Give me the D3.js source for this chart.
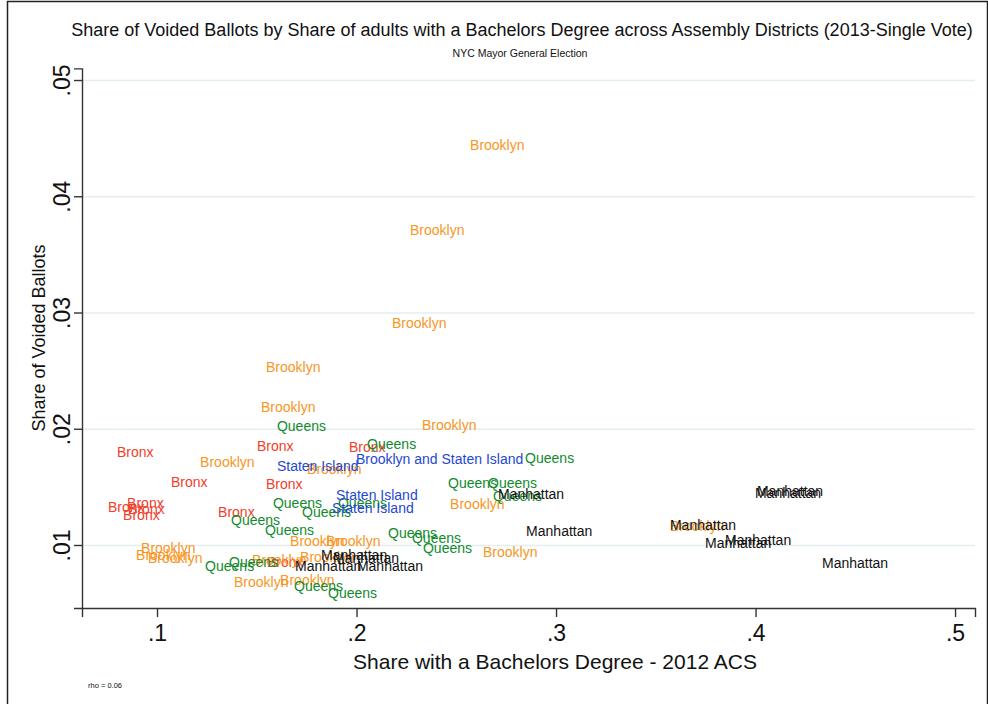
<!DOCTYPE html>
<html>
<head>
<meta charset="utf-8">
<script src="https://cdn.jsdelivr.net/npm/d3@7"></script>
<style>
  html, body { margin: 0; padding: 0; background: #fff; }
</style>
</head>
<body>
<div id="chart"></div>
<script>
// [share with bachelors degree, share of voided ballots] per assembly district
const bronx = [[0.0784, 0.0180], [0.1486, 0.0185], [0.1947, 0.0184], [0.1055, 0.0154], [0.1531, 0.0152], [0.0739, 0.0133], [0.0835, 0.0136], [0.0840, 0.0131], [0.0815, 0.0126], [0.1291, 0.0128], [0.1536, 0.0085]]
const brooklyn = [[0.2554, 0.0444], [0.2253, 0.0371], [0.2163, 0.0291], [0.1531, 0.0253], [0.1506, 0.0219], [0.2313, 0.0203], [0.1201, 0.0171], [0.1737, 0.0165], [0.2454, 0.0135], [0.2619, 0.0094], [0.3556, 0.0116], [0.1652, 0.0103], [0.1832, 0.0103], [0.1702, 0.0090], [0.0905, 0.0097], [0.0880, 0.0091], [0.0940, 0.0089], [0.1461, 0.0087], [0.1371, 0.0068], [0.1602, 0.0070]]
const queens = [[0.1586, 0.0202], [0.2038, 0.0187], [0.2830, 0.0175], [0.2444, 0.0153], [0.2644, 0.0153], [0.2669, 0.0142], [0.1566, 0.0136], [0.1892, 0.0136], [0.1712, 0.0128], [0.1356, 0.0121], [0.1526, 0.0113], [0.2143, 0.0110], [0.2263, 0.0106], [0.2318, 0.0097], [0.1226, 0.0082], [0.1346, 0.0085], [0.1672, 0.0065], [0.1842, 0.0059]]
const statenIsland = [[0.1586, 0.0168], [0.1882, 0.0143], [0.1862, 0.0132]]
const brooklynAndStatenIsland = [[0.1982, 0.0174]]
const manhattan = [[0.2694, 0.0144], [0.2835, 0.0112], [0.3982, 0.0145], [0.3992, 0.0146], [0.3556, 0.0117], [0.3732, 0.0102], [0.3832, 0.0104], [0.4318, 0.0084], [0.1677, 0.0082], [0.1987, 0.0082], [0.1807, 0.0091], [0.1867, 0.0089]]

const xTicks = [0.1, 0.2, 0.3, 0.4, 0.5]
const yTicks = [0.01, 0.02, 0.03, 0.04, 0.05]

const groups = [
  {name: 'Bronx', points: bronx, color: '#f0402a'},
  {name: 'Brooklyn', points: brooklyn, color: '#f8961e'},
  {name: 'Queens', points: queens, color: '#118a2c'},
  {name: 'Staten Island', points: statenIsland, color: '#1f48d2'},
  {name: 'Brooklyn and Staten Island', points: brooklynAndStatenIsland, color: '#1f48d2'},
  {name: 'Manhattan', points: manhattan, color: '#111111'}
]

const draw = (id) => {
  const W = 988
  const H = 704
  const font = 'Liberation Sans, Arial, Helvetica, sans-serif'

  const svg = d3.select(id)
    .append('svg')
    .attr('width', W)
    .attr('height', H)
    .style('display', 'block')
    .style('font-family', font)

  // outer frame
  svg.append('path')
    .attr('d', `M7.5,${H} V1.5 H987.5 V${H}`)
    .attr('fill', 'none')
    .attr('stroke', '#222')
    .attr('stroke-width', 1.5)

  const x = d3.scaleLinear().domain([0.0624, 0.51]).range([82, 975])
  const y = d3.scaleLinear().domain([0.00458, 0.051]).range([608, 68.4])

  // grid
  svg.append('g')
    .attr('transform', `translate(${x.range()[0]},0)`)
    .call(d3.axisLeft(y).tickValues(yTicks).tickSize(-(x.range()[1] - x.range()[0])).tickFormat(''))
    .call(g => g.select('.domain').remove())
    .call(g => g.selectAll('line').attr('stroke', '#e4eef1').attr('stroke-width', 1.6))

  const fmt = (d, p) => d3.format(`.${p}f`)(d).replace(/^0/, '')

  const xAxis = svg.append('g')
    .attr('transform', `translate(0,${y.range()[0]})`)
    .call(d3.axisBottom(x).tickValues(xTicks).tickSizeOuter(0).tickSize(9).tickPadding(8).tickFormat(d => fmt(d, 1)))
  xAxis.selectAll('text').attr('font-size', 23).attr('fill', '#111').attr('font-family', font)

  const yAxis = svg.append('g')
    .attr('transform', `translate(${x.range()[0]},0)`)
    .call(d3.axisLeft(y).tickValues(yTicks).tickSizeOuter(0).tickSize(8).tickFormat(d => fmt(d, 2)))
  yAxis.selectAll('text')
    .attr('font-size', 23)
    .attr('fill', '#111')
    .attr('font-family', font)
    .attr('text-anchor', 'middle')
    .attr('dy', null)
    .attr('x', null)
    .attr('y', 0)
    .attr('transform', 'translate(-12,0) rotate(-90)')

  ;[xAxis, yAxis].forEach(a => a.selectAll('.domain, .tick line').attr('stroke', '#333').attr('stroke-width', 1.4))

  // labels as markers
  const rows = groups.flatMap(g => g.points.map(p => ({name: g.name, color: g.color, bach: p[0], voided: p[1]})))
  svg.append('g')
    .selectAll('text')
    .data(rows)
    .enter()
    .append('text')
    .attr('x', d => x(d.bach) + 3)
    .attr('y', d => y(d.voided))
    .attr('dy', '0.35em')
    .attr('font-size', 14)
    .attr('fill', d => d.color)
    .text(d => d.name)

  // titles
  svg.append('text')
    .attr('x', 522)
    .attr('y', 36)
    .attr('text-anchor', 'middle')
    .attr('font-size', 18)
    .attr('fill', '#111')
    .text('Share of Voided Ballots by Share of adults with a Bachelors Degree across Assembly Districts (2013-Single Vote)')

  svg.append('text')
    .attr('x', 520)
    .attr('y', 57)
    .attr('text-anchor', 'middle')
    .attr('font-size', 10.5)
    .attr('fill', '#111')
    .text('NYC Mayor General Election')

  svg.append('text')
    .attr('x', 555)
    .attr('y', 669)
    .attr('text-anchor', 'middle')
    .attr('font-size', 21)
    .attr('fill', '#111')
    .text('Share with a Bachelors Degree - 2012 ACS')

  svg.append('text')
    .attr('transform', 'translate(45,338) rotate(-90)')
    .attr('text-anchor', 'middle')
    .attr('font-size', 18)
    .attr('fill', '#111')
    .text('Share of Voided Ballots')

  svg.append('text')
    .attr('x', 88)
    .attr('y', 688)
    .attr('font-size', 7.5)
    .attr('fill', '#111')
    .text('rho = 0.06')
}

draw('#chart')
</script>
</body>
</html>
